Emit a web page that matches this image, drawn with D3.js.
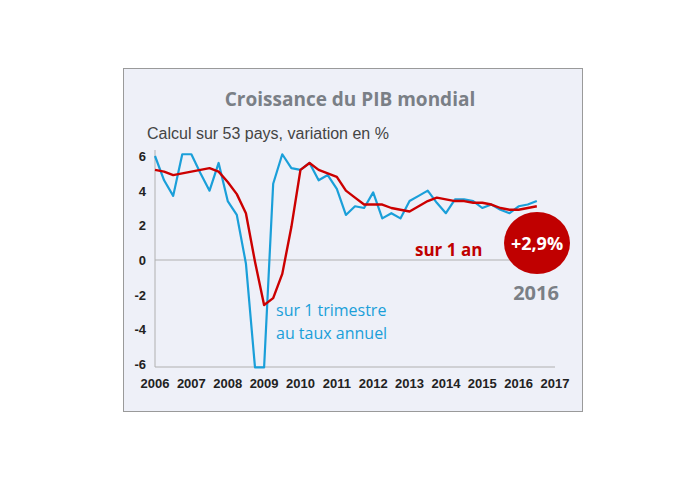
<!DOCTYPE html>
<html><head><meta charset="utf-8">
<script src="https://cdn.jsdelivr.net/npm/d3@7"></script>
<style>body{margin:0;background:#fff}</style>
</head><body><svg id="c" width="695" height="483"></svg>
<script>
// quarterly values, 2006 Q1 -> 2016 Q3
const quarterly = [6.0,4.6,3.7,6.1,6.1,5.0,4.0,5.6,3.4,2.6,-0.2,-6.2,-6.2,4.4,6.1,5.3,5.2,5.6,4.6,4.9,
  4.1,2.6,3.1,3.0,3.9,2.4,2.7,2.4,3.4,3.7,4.0,3.3,2.7,3.5,3.5,3.4,3.0,3.2,2.9,2.7,3.1,3.2,3.4];
const yearly = [5.2,5.1,4.9,5.0,5.1,5.2,5.3,5.1,4.5,3.8,2.7,-0.1,-2.6,-2.2,-0.8,1.9,5.2,5.6,5.2,5.0,
  4.8,4.0,3.6,3.2,3.2,3.2,3.0,2.9,2.8,3.1,3.4,3.6,3.5,3.4,3.4,3.3,3.3,3.2,3.0,2.9,2.9,3.0,3.1];
const years = d3.range(2006, 2018);
const yTicks = [-6,-4,-2,0,2,4,6];

const svg = d3.select('#c');
svg.append('rect').attr('x',123.5).attr('y',68.5).attr('width',459).attr('height',343)
  .attr('fill','#eef0f8').attr('stroke','#9a9a9a');

const x = d3.scaleLinear().domain([2006, 2017]).range([155, 555]);
const y = d3.scaleLinear().domain([-6, 6]).range([364, 156]);
const t = i => 2006 + i / 4;

svg.append('text').attr('x',350).attr('y',106).attr('text-anchor','middle')
  .attr('font-family','Open Sans, sans-serif').attr('font-weight','700').attr('font-size',19)
  .attr('fill','#7a7f86').text('Croissance du PIB mondial');
svg.append('text').attr('x',147).attr('y',139)
  .attr('font-family','Liberation Sans, Arial, sans-serif').attr('font-size',16)
  .attr('fill','#444').text('Calcul sur 53 pays, variation en %');

// axes lines
svg.append('line').attr('x1',155).attr('x2',155).attr('y1',150).attr('y2',y(-6)+3)
  .attr('stroke','#b0b0b0');
svg.append('line').attr('x1',155).attr('x2',555).attr('y1',y(0)).attr('y2',y(0))
  .attr('stroke','#b0b0b0');
svg.append('line').attr('x1',155).attr('x2',555).attr('y1',y(-6)+3).attr('y2',y(-6)+3)
  .attr('stroke','#b0b0b0');

svg.selectAll('.yt').data(yTicks).join('text').attr('class','yt')
  .attr('x',146).attr('y',d => y(d)+5).attr('text-anchor','end')
  .attr('font-family','Liberation Sans, Arial, sans-serif').attr('font-weight','700')
  .attr('font-size',13).attr('fill','#222').text(d => d);
svg.selectAll('.xt').data(years).join('text').attr('class','xt')
  .attr('x',d => x(d)).attr('y',388).attr('text-anchor','middle')
  .attr('font-family','Liberation Sans, Arial, sans-serif').attr('font-weight','700')
  .attr('font-size',13).attr('fill','#222').text(d => d);

const line = d3.line().x((d,i) => x(t(i))).y(d => y(d));
svg.append('path').datum(quarterly).attr('d',line).attr('fill','none')
  .attr('stroke','#1a9fd9').attr('stroke-width',2.2).attr('stroke-linejoin','round');
svg.append('path').datum(yearly).attr('d',line).attr('fill','none')
  .attr('stroke','#cc0000').attr('stroke-width',2.4).attr('stroke-linejoin','round');

const ann = svg.append('g').attr('font-family','Open Sans, sans-serif');
ann.append('text').attr('x',276).attr('y',316).attr('font-size',16).attr('fill','#1a9fd9').text('sur 1 trimestre');
ann.append('text').attr('x',276).attr('y',339).attr('font-size',16).attr('fill','#1a9fd9').text('au taux annuel');
ann.append('text').attr('x',415).attr('y',256).attr('font-size',17).attr('font-weight','700').attr('fill','#c00000').text('sur 1 an');
ann.append('ellipse').attr('cx',537).attr('cy',243).attr('rx',33).attr('ry',31).attr('fill','#c00000');
ann.append('text').attr('x',537).attr('y',250).attr('text-anchor','middle').attr('font-size',18)
  .attr('font-weight','700').attr('fill','#fff').text('+2,9%');
ann.append('text').attr('x',536).attr('y',300).attr('text-anchor','middle').attr('font-size',20)
  .attr('font-weight','700').attr('fill','#7a7f86').text('2016');
</script></body></html>
